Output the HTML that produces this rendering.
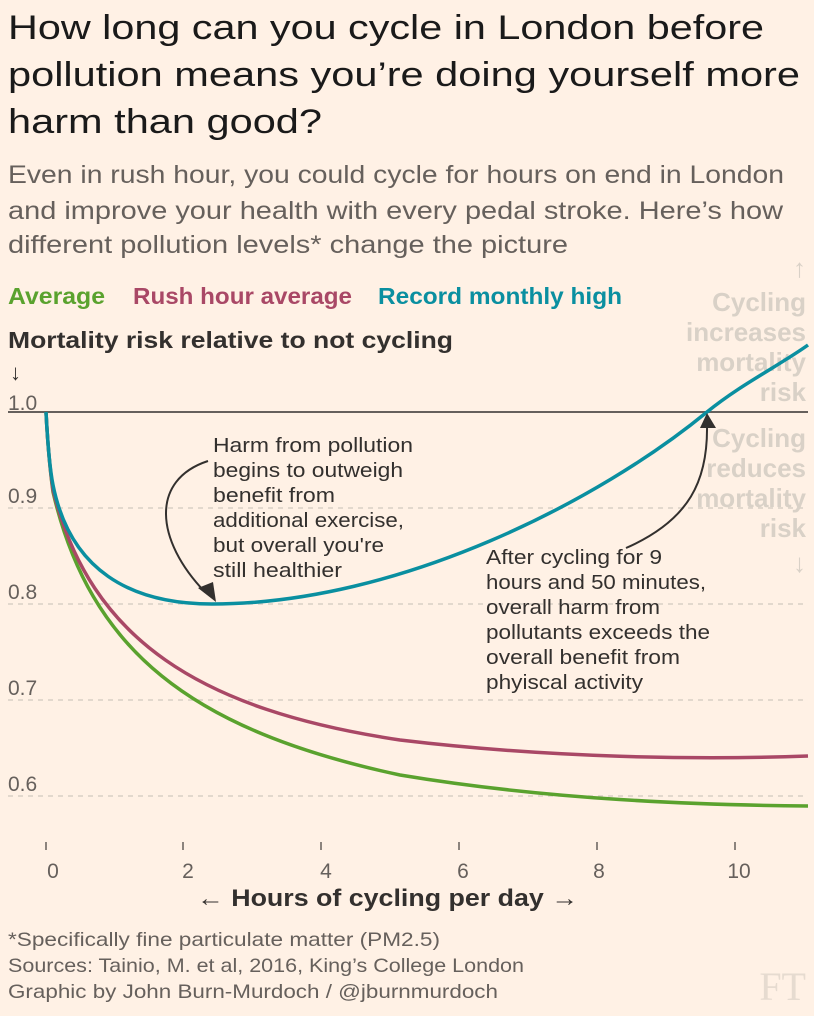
<!DOCTYPE html>
<html><head><meta charset="utf-8"><style>
body{margin:0;background:#fff1e5;}
svg{display:block;font-family:"Liberation Sans",sans-serif;}
</style></head><body>
<svg width="814" height="1016" viewBox="0 0 814 1016">
<rect width="814" height="1016" fill="#fff1e5"/>
<g font-size="34" fill="#1a1a1a">
<text x="8" y="39" textLength="756" lengthAdjust="spacingAndGlyphs">How long can you cycle in London before</text>
<text x="8" y="86" textLength="792" lengthAdjust="spacingAndGlyphs">pollution means you’re doing yourself more</text>
<text x="8" y="133" textLength="314" lengthAdjust="spacingAndGlyphs">harm than good?</text>
</g>
<g font-size="25" fill="#66605c">
<text x="8" y="183" textLength="776" lengthAdjust="spacingAndGlyphs">Even in rush hour, you could cycle for hours on end in London</text>
<text x="8" y="219" textLength="775" lengthAdjust="spacingAndGlyphs">and improve your health with every pedal stroke. Here’s how</text>
<text x="8" y="253" textLength="560" lengthAdjust="spacingAndGlyphs">different pollution levels* change the picture</text>
</g>
<g font-size="23" font-weight="bold">
<text x="8" y="304" fill="#5aa22e" textLength="97" lengthAdjust="spacingAndGlyphs">Average</text>
<text x="133" y="304" fill="#a94866" textLength="219" lengthAdjust="spacingAndGlyphs">Rush hour average</text>
<text x="378" y="304" fill="#0a8fa0" textLength="244" lengthAdjust="spacingAndGlyphs">Record monthly high</text>
</g>
<text x="8" y="348" font-size="23" font-weight="bold" fill="#33302e" textLength="445" lengthAdjust="spacingAndGlyphs">Mortality risk relative to not cycling</text>
<text x="10" y="380" font-size="22" fill="#33302e">↓</text>
<g font-size="21" fill="#66605c">
<text x="8" y="410">1.0</text><text x="8" y="503">0.9</text><text x="8" y="599">0.8</text><text x="8" y="695">0.7</text><text x="8" y="791">0.6</text>
</g>
<g stroke="#d8cfc5" stroke-dasharray="5,5" stroke-width="1.5">
<line x1="8" y1="508" x2="808" y2="508"/><line x1="8" y1="604" x2="808" y2="604"/><line x1="8" y1="700" x2="808" y2="700"/><line x1="8" y1="796" x2="808" y2="796"/>
</g>
<g font-size="26" font-weight="bold" fill="#d9d1c7" text-anchor="end">
<text x="806" y="277">↑</text>
<text x="806" y="311">Cycling</text><text x="806" y="341">increases</text><text x="806" y="371">mortality</text><text x="806" y="401">risk</text>
<text x="806" y="447">Cycling</text><text x="806" y="477">reduces</text><text x="806" y="507">mortality</text><text x="806" y="537">risk</text>
<text x="806" y="572">↓</text>
</g>
<line x1="8" y1="412" x2="808" y2="412" stroke="#66605c" stroke-width="2"/>
<g fill="none" stroke-width="3.5">
<path d="M46,412 C48,450 50,470 53,492 C90,650 190,730 400,775 C550,800 700,805 808,806" stroke="#5aa22e"/>
<path d="M46,412 C48,450 50,470 53,490 C90,640 200,710 400,740 C550,758 700,760 808,756" stroke="#a94866"/>
<path d="M46,412 C48,450 50,470 53,485 C70,570 130,604 212,604 C400,604 600,500 707,412 C740,385 780,365 808,345" stroke="#0a8fa0"/>
</g>
<g font-size="20" fill="#33302e" lengthAdjust="spacingAndGlyphs">
<text x="213" y="452" textLength="200" lengthAdjust="spacingAndGlyphs">Harm from pollution</text>
<text x="213" y="477" textLength="190" lengthAdjust="spacingAndGlyphs">begins to outweigh</text>
<text x="213" y="502" textLength="122" lengthAdjust="spacingAndGlyphs">benefit from</text>
<text x="213" y="527" textLength="191" lengthAdjust="spacingAndGlyphs">additional exercise,</text>
<text x="213" y="552" textLength="171" lengthAdjust="spacingAndGlyphs">but overall you're</text>
<text x="213" y="577" textLength="129" lengthAdjust="spacingAndGlyphs">still healthier</text>
<text x="486" y="564" textLength="176" lengthAdjust="spacingAndGlyphs">After cycling for 9</text>
<text x="486" y="589" textLength="220" lengthAdjust="spacingAndGlyphs">hours and 50 minutes,</text>
<text x="486" y="614" textLength="174" lengthAdjust="spacingAndGlyphs">overall harm from</text>
<text x="486" y="639" textLength="224" lengthAdjust="spacingAndGlyphs">pollutants exceeds the</text>
<text x="486" y="664" textLength="194" lengthAdjust="spacingAndGlyphs">overall benefit from</text>
<text x="486" y="689" textLength="157" lengthAdjust="spacingAndGlyphs">phyiscal activity</text>
</g>
<g fill="none" stroke="#33302e" stroke-width="2">
<path d="M208,461 C150,480 155,540 205,592"/>
<path d="M626,548 C690,520 708,480 707,425"/>
</g>
<polygon points="198,588 216,602 213,582" fill="#33302e"/>
<polygon points="707,413 700,428 716,428" fill="#33302e"/>
<g stroke="#66605c" stroke-width="1.5">
<line x1="46" y1="842" x2="46" y2="850"/><line x1="183" y1="842" x2="183" y2="850"/><line x1="321" y1="842" x2="321" y2="850"/><line x1="459" y1="842" x2="459" y2="850"/><line x1="597" y1="842" x2="597" y2="850"/><line x1="735" y1="842" x2="735" y2="850"/>
</g>
<g font-size="21" fill="#66605c" text-anchor="middle">
<text x="53" y="878">0</text><text x="188" y="878">2</text><text x="326" y="878">4</text><text x="463" y="878">6</text><text x="599" y="878">8</text><text x="739" y="878">10</text>
</g>
<text x="197" y="906" font-size="24" font-weight="bold" fill="#33302e" textLength="381" lengthAdjust="spacingAndGlyphs">← Hours of cycling per day →</text>
<g font-size="19.5" fill="#66605c">
<text x="8" y="946" textLength="432" lengthAdjust="spacingAndGlyphs">*Specifically fine particulate matter (PM2.5)</text>
<text x="8" y="972" textLength="516" lengthAdjust="spacingAndGlyphs">Sources: Tainio, M. et al, 2016, King’s College London</text>
<text x="8" y="998" textLength="490" lengthAdjust="spacingAndGlyphs">Graphic by John Burn-Murdoch / @jburnmurdoch</text>
</g>
<text x="806" y="1000" font-family="Liberation Serif,serif" font-size="40" fill="#e6dbd0" text-anchor="end">FT</text>
</svg>
</body></html>
